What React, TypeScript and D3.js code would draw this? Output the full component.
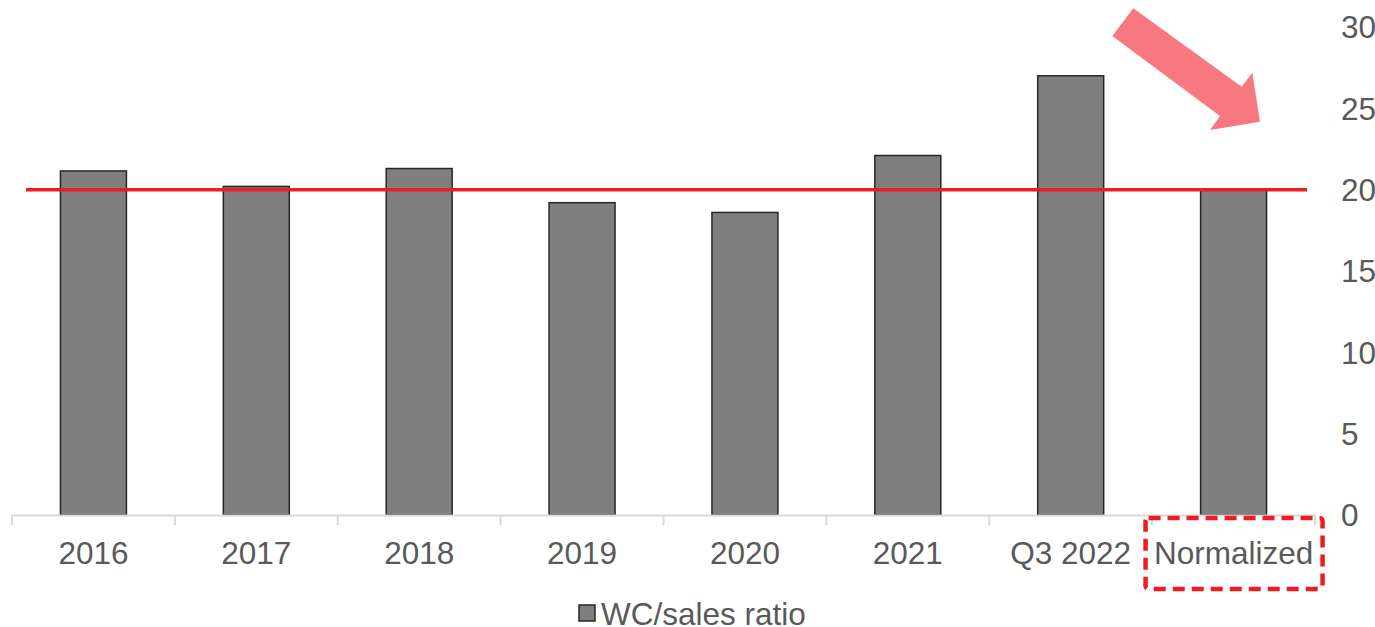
import React from "react";
import * as d3 from "d3";

const categories: string[] = ["2016", "2017", "2018", "2019", "2020", "2021", "Q3 2022", "Normalized"];
const wcSalesRatio: number[] = [21.15, 20.2, 21.3, 19.2, 18.6, 22.1, 27.0, 20.0];
const yTicks: number[] = [0, 5, 10, 15, 20, 25, 30];
const referenceLevel = 20;
const seriesName = "WC/sales ratio";

const W = 1375;
const H = 627;
const FONT = "'Liberation Sans', Arial, Helvetica, sans-serif";
const TEXT = "#595959";
const FS = 31.5;

export default function App() {
  const x = d3
    .scaleBand<string>()
    .domain(categories)
    .range([12, 1315])
    .paddingInner(0.595)
    .paddingOuter(0.2975);
  const y = d3.scaleLinear().domain([0, 30]).range([515, 27]);
  const step = x.step();
  const tickXs = d3.range(categories.length + 1).map((i) => 12 + i * step);

  const arrowPts: [number, number][] = [
    [1133.3, 8.3],
    [1241.7, 86.7],
    [1252.3, 72.7],
    [1260, 121.7],
    [1210, 130],
    [1220, 116],
    [1112.3, 36],
  ];
  const arrowPath = d3.line()(arrowPts) + "Z";

  const lastCat = categories[categories.length - 1];
  const lastCenter = (x(lastCat) as number) + x.bandwidth() / 2;

  return (
    <svg
      width={W}
      height={H}
      style={{ position: "fixed", left: 0, top: 0, background: "#fff" }}
      fontFamily={FONT}
    >
      {/* bars */}
      {categories.map((c, i) => (
        <rect
          key={c}
          x={x(c)}
          y={y(wcSalesRatio[i])}
          width={x.bandwidth()}
          height={y(0) - y(wcSalesRatio[i])}
          fill="#7f7f7f"
          stroke="#262626"
          strokeWidth={1.5}
        />
      ))}
      {/* x axis */}
      <line x1={12} x2={1315} y1={515.5} y2={515.5} stroke="#d9d9d9" strokeWidth={2} />
      {tickXs.map((tx, i) => (
        <line key={i} x1={tx} x2={tx} y1={515} y2={525} stroke="#d9d9d9" strokeWidth={2} />
      ))}
      {categories.map((c) => (
        <text
          key={c}
          x={(x(c) as number) + x.bandwidth() / 2}
          y={564}
          textAnchor="middle"
          fontSize={FS}
          fill={TEXT}
        >
          {c}
        </text>
      ))}
      {/* y axis labels (right) */}
      {yTicks.map((t) => (
        <text key={t} x={1341} y={y(t)} dy="0.36em" fontSize={FS} fill={TEXT}>
          {t}
        </text>
      ))}
      {/* reference line */}
      <line
        x1={26}
        x2={1307}
        y1={y(referenceLevel)}
        y2={y(referenceLevel)}
        stroke="#ed1c24"
        strokeWidth={3.5}
      />
      {/* dashed highlight box */}
      <rect
        x={lastCenter - 88}
        y={518}
        width={177}
        height={71}
        rx={3}
        fill="none"
        stroke="#ed1c24"
        strokeWidth={4.5}
        strokeDasharray="12 7"
      />
      {/* arrow */}
      <path d={arrowPath} fill="#f87880" />
      {/* legend */}
      <rect x={579} y={605} width={16} height={16} fill="#7f7f7f" stroke="#262626" strokeWidth={1.5} />
      <text x={601} y={625} fontSize={FS} fill={TEXT}>
        {seriesName}
      </text>
    </svg>
  );
}
